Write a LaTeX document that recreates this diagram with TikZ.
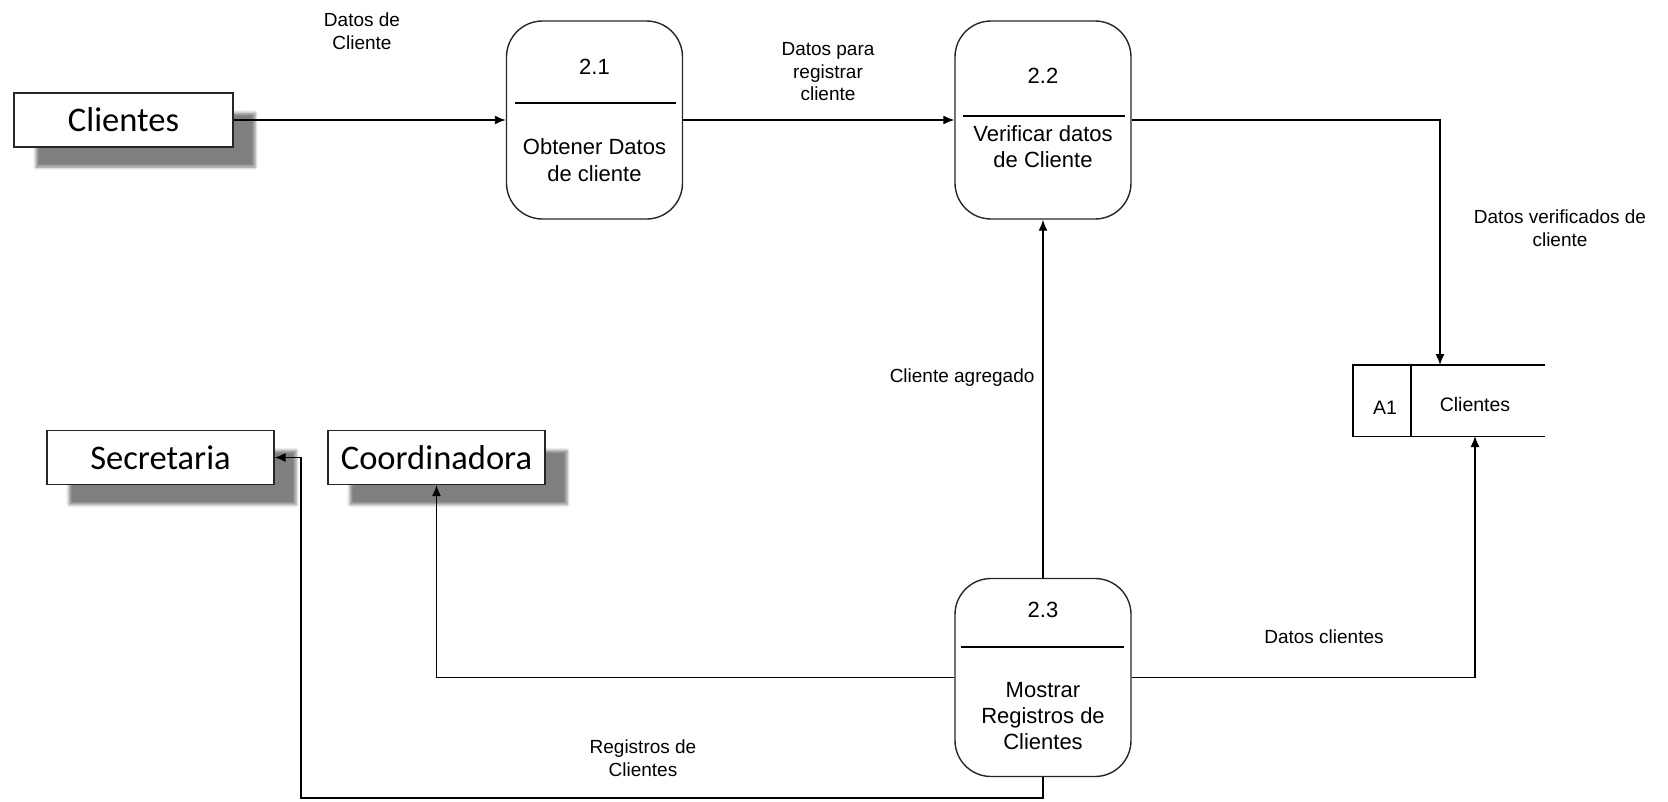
\documentclass[tikz,border=0pt]{standalone}
\usepackage{fontspec}
\setmainfont{Liberation Sans}
\newfontfamily\entfont{Carlito}
\usetikzlibrary{arrows.meta,shadows.blur}

\begin{document}
\begin{tikzpicture}[x=1pt,y=-1pt,
  entity/.style={draw=black!85,line width=1.1pt,fill=white,inner sep=0pt,
    minimum height=54pt,font=\entfont\fontsize{34.5}{38}\selectfont,
    blur shadow={shadow xshift=22pt,shadow yshift=-20pt,shadow opacity=50,shadow blur radius=3pt}},
  proc/.style={draw=black!85,line width=1.4pt,rounded corners=36pt,
    minimum width=176pt,minimum height=198pt,inner sep=0pt},
  ptext/.style={font=\fontsize{22}{26.5}\selectfont,align=center},
  lbl/.style={font=\fontsize{19}{22.5}\selectfont,align=center},
  flow/.style={line width=1.4pt,-{Latex[length=11pt,width=9pt]}},
  plain/.style={line width=1.4pt}
]
\useasboundingbox (0,0) rectangle (1668,801);

% external entities
\node[entity,minimum width=219pt] (cli) at (123.5,120) {Clientes};
\node[entity,minimum width=227pt] (sec) at (160.5,457.5) {Secretaria};
\node[entity,minimum width=217pt] (coord) at (436.5,457.5) {Coordinadora};

% processes
\node[proc] (p21) at (594.5,120) {};
\node[proc] (p22) at (1043,120) {};
\node[proc] (p23) at (1043,677.5) {};
\draw[plain] (515,103) -- (676,103);
\draw[plain] (963,116) -- (1125,116);
\draw[plain] (961,647) -- (1124,647);

\node[ptext] (n21) at (594.5,67) {2.1};
\node[ptext] (t21) at (594.5,160) {Obtener Datos\\de cliente};
\node[ptext] (n22) at (1043,76) {2.2};
\node[ptext] (t22) at (1043,146.5) {Verificar datos\\de Cliente};
\node[ptext] (n23) at (1043,610) {2.3};
\node[ptext,font=\fontsize{22}{26}\selectfont] (t23) at (1043,716) {Mostrar\\Registros de\\Clientes};

% data store A1
\node[minimum width=192pt,minimum height=71pt,inner sep=0pt] (a1) at (1449,400.5) {};
\draw[plain] (a1.north east) -- (a1.north west) -- (a1.south west) -- (a1.south east);
\draw[plain] (1411,365) -- (1411,436);
\node[font=\fontsize{19.5}{22}\selectfont] (a1id) at (1385,408) {A1};
\node[font=\fontsize{19.5}{22}\selectfont] (a1name) at (1475,405) {Clientes};

% data flows
\coordinate (a1in) at (1440,365);
\coordinate (a1up) at (1475,436);
\coordinate (b2) at (301,798);
\draw[flow] (cli.east) -- (p21.west);
\draw[flow] (p21.east) -- (p22.west);
\draw[flow] (p22.east) -| (a1in);
\draw[flow] (p23.north) -- (p22.south);
\draw[flow] (p23.west) -| (coord.south);
\draw[flow] (p23.east) -| (a1up);
\draw[flow] (p23.south) |- (b2) |- (sec.east);

% flow labels
\node[lbl] (l1) at (362,31) {Datos de\\Cliente};
\node[lbl] (l2) at (828,72) {Datos para\\registrar\\cliente};
\node[lbl] (l3) at (1560,228) {Datos verificados de\\cliente};
\node[lbl,anchor=east] (l4) at (1038,378) {Cliente agregado};
\node[lbl] (l5) at (1324,637) {Datos clientes};
\node[lbl] (l6) at (643,758) {Registros de\\Clientes};
\end{tikzpicture}
\end{document}
